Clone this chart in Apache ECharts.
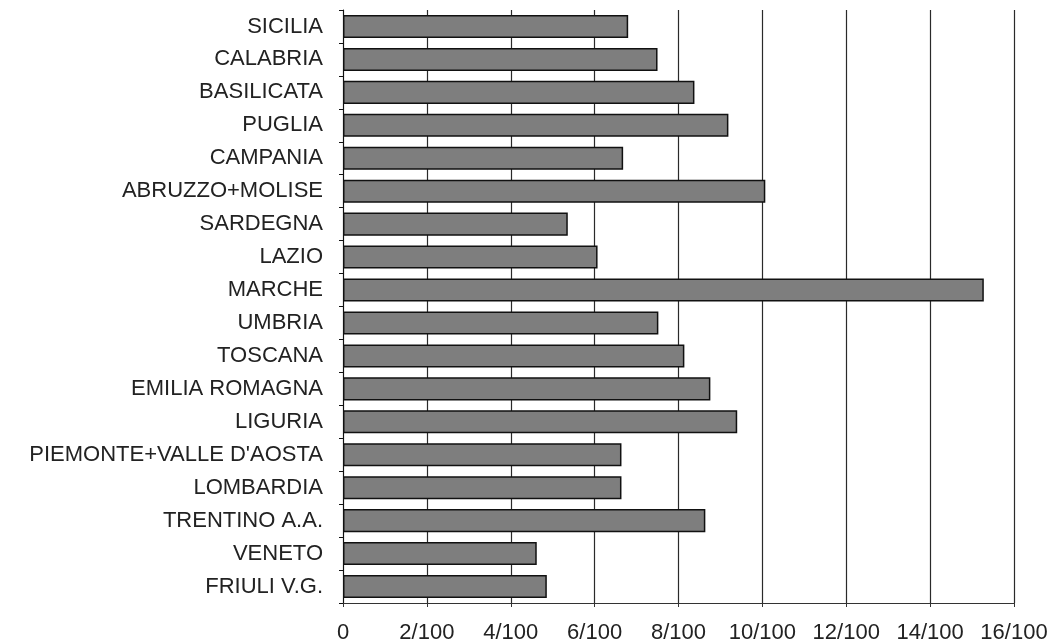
<!DOCTYPE html>
<html>
<head>
<meta charset="utf-8">
<script src="https://cdn.jsdelivr.net/npm/echarts@6/dist/echarts.min.js"></script>
<style>
html,body{margin:0;padding:0;background:#fff;}
#chart{width:1056px;height:644px;}
</style>
</head>
<body>
<div id="chart"></div>
<script>
// Regions, top to bottom as shown
const regions = ["SICILIA","CALABRIA","BASILICATA","PUGLIA","CAMPANIA","ABRUZZO+MOLISE","SARDEGNA","LAZIO","MARCHE","UMBRIA","TOSCANA","EMILIA ROMAGNA","LIGURIA","PIEMONTE+VALLE D'AOSTA","LOMBARDIA","TRENTINO A.A.","VENETO","FRIULI V.G."];
// Values in units of 1/100
const values = [6.80,7.50,8.38,9.19,6.68,10.07,5.36,6.07,15.28,7.52,8.14,8.76,9.40,6.64,6.64,8.64,4.62,4.86];
const xTicks = [0,2,4,6,8,10,12,14,16];
const xTickLabels = ["0","2/100","4/100","6/100","8/100","10/100","12/100","14/100","16/100"];

const chart = echarts.init(document.getElementById('chart'), null, {renderer:'canvas'});
chart.setOption({
  animation:false,
  backgroundColor:'#fff',
  grid:{left:343,right:42,top:10,bottom:41,containLabel:false},
  xAxis:{
    type:'value',min:0,max:16,interval:2,
    axisLine:{show:true,lineStyle:{color:'#333',width:1}},
    axisTick:{show:true,length:4,lineStyle:{color:'#333'}},
    axisLabel:{
      margin:19,fontFamily:'Liberation Sans, Arial, sans-serif',fontSize:22,color:'#222',
      formatter:function(v){const i=xTicks.indexOf(v);return i>=0?xTickLabels[i]:'';}
    },
    splitLine:{show:true,lineStyle:{color:'#2a2a2a',width:1.2}}
  },
  yAxis:{
    type:'category',data:regions,inverse:true,
    axisLine:{show:true,lineStyle:{color:'#111',width:1}},
    axisTick:{show:true,length:4,lineStyle:{color:'#111'}},
    axisLabel:{margin:20,fontFamily:'Liberation Sans, Arial, sans-serif',fontSize:22,color:'#222'},
    splitLine:{show:false}
  },
  series:[{
    type:'bar',data:values,barCategoryGap:'30%',
    itemStyle:{color:'#7e7e7e',borderColor:'#111',borderWidth:1.5}
  }]
});
</script>
</body>
</html>
